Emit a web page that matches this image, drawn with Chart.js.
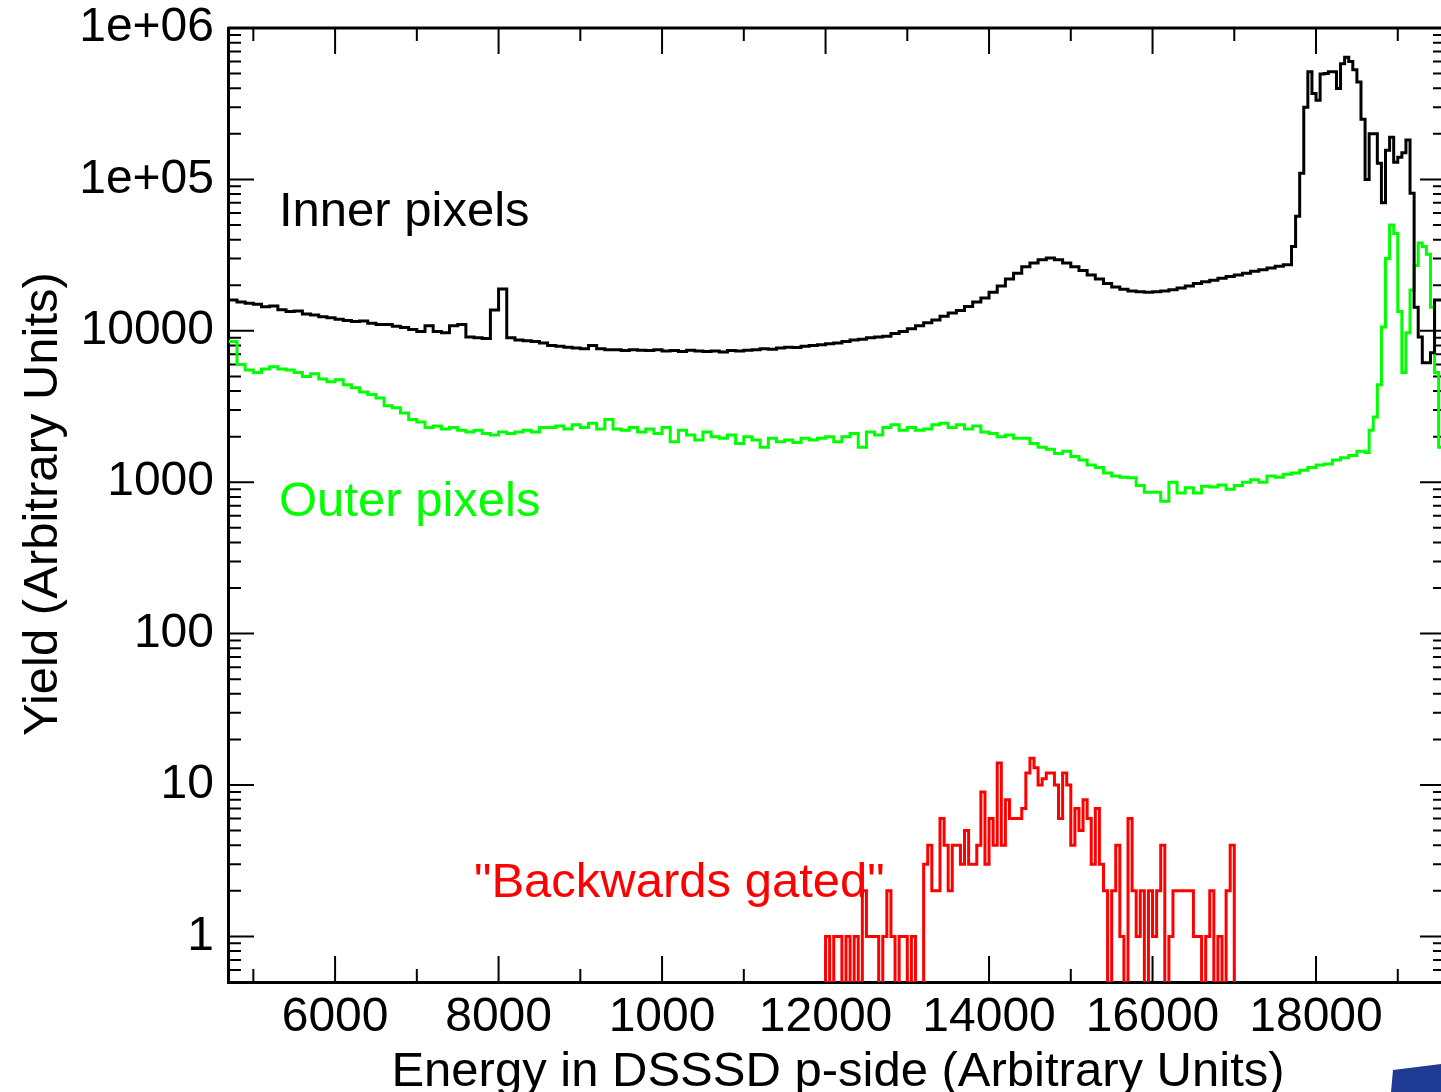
<!DOCTYPE html>
<html>
<head>
<meta charset="utf-8">
<title>Energy in DSSSD p-side</title>
<script src="https://cdn.jsdelivr.net/npm/chart.js@4.4.1/dist/chart.umd.min.js"></script>
<style>
  html, body { margin: 0; padding: 0; background: #fff; overflow: hidden; }
  #wrap { width: 1452px; height: 1092px; }
</style>
</head>
<body>
<div id="wrap"><canvas id="spectre" width="1452" height="1092"></canvas></div>
<script>
// Axes
const xTickValues = [6000, 8000, 10000, 12000, 14000, 16000, 18000];
const xTickLabels = ['6000', '8000', '1000', '12000', '14000', '16000', '18000'];
const xMinorTicks = [5000, 7000, 9000, 11000, 13000, 15000, 17000, 19000];
const yTickValues = [1, 10, 100, 1000, 10000, 100000, 1000000];
const yTickLabels = ['1', '10', '100', '1000', '10000', '1e+05', '1e+06'];

// Inner pixels : bins de 100 depuis 4700, puis bins de 50 depuis 17700
const innerStart = 4700, innerWidth = 100;
const innerLow = [
  16000, 15500, 15200, 15000, 14400, 14600, 13800, 13400, 13500, 12900,
  12700, 12400, 12200, 11900, 11700, 11500, 11600, 11200, 11000, 11000,
  10700, 10500, 10200, 9900, 10800, 9900, 9700, 10800, 11000, 9100,
  9000, 8900, 13700, 18900, 9000, 8700, 8600, 8500, 8300, 8000,
  7900, 7800, 7700, 7600, 8000, 7600, 7500, 7500, 7400, 7500,
  7450, 7400, 7500, 7350, 7400, 7300, 7450, 7350, 7300, 7350,
  7250, 7400, 7350, 7450, 7500, 7600, 7550, 7700, 7800, 7750,
  7900, 8000, 8100, 8200, 8300, 8500, 8700, 8800, 9000, 9100,
  9200, 9600, 9900, 10300, 10800, 11300, 11800, 12500, 13100, 13600,
  14500, 15500, 16500, 18000, 19800, 22000, 24000, 26500, 28000, 29500,
  30300, 29500, 28000, 26500, 25000, 23400, 22000, 20500, 19500, 18800,
  18300, 18100, 18000, 18100, 18300, 18650, 19200, 19800, 20500, 21100,
  21600, 22200, 22800, 23400, 24000, 24700, 25300, 26000, 26700, 27300
];
const innerPeakStart = 17700, innerPeakWidth = 50;
const innerPeak = [
  36000, 57000, 110000, 300000, 514000, 370000, 333000, 496000, 500000, 514000,
  514000, 398000, 580000, 640000, 600000, 529000, 440000, 250000, 100000, 200000,
  200000, 128000, 70000, 156000, 190000, 130000, 140000, 150000, 182000, 81000,
  14300, 9100, 6150, 6150, 7160, 16000, 16000, 16000
];

// Outer pixels : bins de 100 depuis 4700, puis bins de 50 depuis 18600
const outerStart = 4700, outerWidth = 100;
const outerLow = [
  8500, 6000, 5500, 5300, 5600, 5800, 5600, 5500, 5300, 5000,
  5200, 4800, 4600, 4750, 4400, 4200, 3950, 3800, 3600, 3200,
  3100, 2870, 2600, 2500, 2300, 2350, 2250, 2300, 2200, 2150,
  2200, 2100, 2050, 2150, 2100, 2150, 2200, 2150, 2300, 2300,
  2350, 2250, 2400, 2300, 2450, 2250, 2600, 2250, 2200, 2300,
  2150, 2250, 2100, 2300, 1850, 2200, 2050, 1900, 2150, 2000,
  1950, 2050, 1800, 2000, 1900, 1700, 1950, 1850, 1900, 1830,
  1950, 1900, 1950, 2000, 1850, 2000, 2100, 1700, 2150, 2050,
  2300, 2400, 2200, 2300, 2200, 2250, 2400, 2450, 2300, 2400,
  2250, 2350, 2150, 2100, 2000, 2050, 1950, 1950, 1800, 1700,
  1650, 1550, 1600, 1480, 1400, 1300, 1250, 1150, 1100, 1080,
  1070, 950, 860, 860, 750, 1000, 850, 920, 850, 940,
  930, 960, 900, 950, 1000, 1040, 1000, 1100, 1080, 1130,
  1150, 1200, 1250, 1300, 1320, 1400, 1450, 1500, 1600
];
const outerPeakStart = 18600, outerPeakWidth = 50;
const outerPeak = [
  1570, 2200, 2700, 4400, 10600, 30000, 50000, 44000, 13400, 5300,
  9700, 18600, 27000, 38000, 36000, 32000, 14300, 5300, 1700, 1400
];

// "Backwards gated" : bins de 50 depuis 12000 (0 = bin vide)
const gatedStart = 12000, gatedWidth = 50;
const gated = [
  1, 0, 1, 1, 0, 1, 0, 1, 0, 2,
  1, 1, 1, 0, 1, 2, 1, 0, 1, 1,
  0, 1, 0, 0, 3, 4, 2, 2, 6, 4,
  2, 4, 4, 3, 5, 3, 3, 4, 9, 3,
  6, 4, 14, 4, 8, 6, 6, 6, 7, 12,
  15, 13, 10, 11, 12, 12, 10, 6, 12, 10,
  4, 7, 5, 8, 6, 3, 7, 3, 2, 0,
  2, 4, 1, 0, 6, 2, 1, 2, 0, 2,
  1, 2, 4, 0, 1, 2, 2, 2, 2, 2,
  1, 1, 0, 1, 2, 0, 1, 0, 2, 4
];

// valeur utilisée pour les bins vides (sous le bas de l'axe log)
const FLOOR = 0.3;

const SANS = "'Liberation Sans', Arial, sans-serif";

// Construit les points d'un histogramme (bords gauches des bins)
function segmentPoints(start, width, values) {
    return values.map((v, i) => ({ x: start + i * width, y: v > 0 ? v : FLOOR }));
}

function closeHist(points, endX, endY) {
    points.push({ x: endX, y: endY });
    return points;
}

const innerPoints = closeHist(
    segmentPoints(innerStart, innerWidth, innerLow).concat(segmentPoints(innerPeakStart, innerPeakWidth, innerPeak)),
    innerPeakStart + innerPeak.length * innerPeakWidth,
    innerPeak[innerPeak.length - 1]
);
const outerPoints = closeHist(
    segmentPoints(outerStart, outerWidth, outerLow).concat(segmentPoints(outerPeakStart, outerPeakWidth, outerPeak)),
    outerPeakStart + outerPeak.length * outerPeakWidth,
    outerPeak[outerPeak.length - 1]
);
const gatedPoints = [{ x: gatedStart, y: FLOOR }].concat(segmentPoints(gatedStart, gatedWidth, gated));
closeHist(gatedPoints, gatedStart + gated.length * gatedWidth, FLOOR);

// Pas de marge auto pour les labels qui débordent
function noPadding(scale) {
    scale.paddingTop = 0;
    scale.paddingBottom = 0;
    scale.paddingLeft = 0;
    scale.paddingRight = 0;
}

// Cadre façon ROOT : ticks vers l'intérieur sur les 4 côtés + textes
const cadreRoot = {
    id: 'cadreRoot',
    beforeDatasetsDraw(chart) {
        const { ctx, chartArea: a, scales: { x, y } } = chart;
        ctx.save();
        ctx.strokeStyle = '#000';
        ctx.lineWidth = 2;
        ctx.beginPath();
        const tickX = (v, len) => {
            const px = x.getPixelForValue(v);
            ctx.moveTo(px, a.bottom); ctx.lineTo(px, a.bottom - len);
            ctx.moveTo(px, a.top); ctx.lineTo(px, a.top + len);
        };
        const tickY = (v, len) => {
            const py = y.getPixelForValue(v);
            ctx.moveTo(a.left, py); ctx.lineTo(a.left + len, py);
            ctx.moveTo(a.right, py); ctx.lineTo(a.right - len, py);
        };
        xTickValues.forEach(v => tickX(v, 26));
        xMinorTicks.forEach(v => tickX(v, 13));
        yTickValues.forEach(v => tickY(v, 26));
        [0.1, 1, 10, 100, 1000, 10000, 100000].forEach(d => {
            for (let m = 2; m <= 9; m++) {
                const v = m * d;
                if (v >= y.min && v <= y.max) tickY(v, 13);
            }
        });
        ctx.stroke();
        ctx.lineWidth = 3;
        ctx.beginPath();
        ctx.moveTo(a.left, a.top);
        ctx.lineTo(a.right, a.top);
        ctx.lineTo(a.right, a.bottom);
        ctx.stroke();
        ctx.restore();
    },
    afterDraw(chart) {
        const { ctx } = chart;
        ctx.save();
        ctx.textBaseline = 'alphabetic';

        // titres des axes
        ctx.fillStyle = '#000';
        ctx.font = `49px ${SANS}`;
        ctx.textAlign = 'center';
        ctx.fillText('Energy in DSSSD p-side (Arbitrary Units)', 838, 1086);
        ctx.save();
        ctx.translate(57, 504);
        ctx.rotate(-Math.PI / 2);
        ctx.fillText('Yield (Arbitrary Units)', 0, 0);
        ctx.restore();

        // étiquettes des courbes
        ctx.textAlign = 'left';
        ctx.font = `49px ${SANS}`;
        ctx.fillStyle = '#000000';
        ctx.fillText('Inner pixels', 279, 226);
        ctx.fillStyle = '#00ff00';
        ctx.fillText('Outer pixels', 279, 516);
        ctx.fillStyle = '#ff0000';
        ctx.fillText('"Backwards gated"', 474, 897);

        // bout de logo en bas à droite
        ctx.fillStyle = '#1f3a93';
        ctx.beginPath();
        ctx.moveTo(1393, 1070);
        ctx.lineTo(1441, 1064);
        ctx.lineTo(1441, 1092);
        ctx.lineTo(1391, 1092);
        ctx.closePath();
        ctx.fill();
        ctx.restore();
    }
};

const ctx = document.getElementById('spectre').getContext('2d');
new Chart(ctx, {
    type: 'line',
    data: {
        datasets: [
            { label: 'Inner pixels', data: innerPoints, borderColor: '#000000', borderWidth: 3, stepped: 'before', pointRadius: 0, fill: false, borderJoinStyle: 'miter' },
            { label: 'Outer pixels', data: outerPoints, borderColor: '#00ff00', borderWidth: 3, stepped: 'before', pointRadius: 0, fill: false, borderJoinStyle: 'miter' },
            { label: 'Backwards gated', data: gatedPoints, borderColor: '#ff0000', borderWidth: 3, stepped: 'before', pointRadius: 0, fill: false, borderJoinStyle: 'miter' }
        ]
    },
    options: {
        responsive: false,
        animation: false,
        layout: { padding: { top: 28, right: 6, left: 0, bottom: 0 } },
        plugins: {
            legend: { display: false },
            tooltip: { enabled: false }
        },
        scales: {
            x: {
                type: 'linear',
                min: 4690,
                max: 19590,
                afterBuildTicks: scale => { scale.ticks = xTickValues.map(v => ({ value: v })); },
                afterFit: scale => { scale.height = 110; noPadding(scale); },
                grid: { display: false, drawTicks: false },
                border: { display: true, color: '#000', width: 3 },
                ticks: {
                    autoSkip: false,
                    maxRotation: 0,
                    padding: 12,
                    color: '#000',
                    font: { family: SANS, size: 48, lineHeight: 1 },
                    callback: (value, index) => xTickLabels[index]
                }
            },
            y: {
                type: 'logarithmic',
                min: 0.5,
                max: 1000000,
                afterBuildTicks: scale => { scale.ticks = yTickValues.map(v => ({ value: v })); },
                afterFit: scale => { scale.width = 228; noPadding(scale); },
                grid: { display: false, drawTicks: false },
                border: { display: true, color: '#000', width: 3 },
                ticks: {
                    autoSkip: false,
                    padding: 14,
                    color: '#000',
                    font: { family: SANS, size: 48, lineHeight: 1 },
                    callback: (value, index) => yTickLabels[index]
                }
            }
        }
    },
    plugins: [cadreRoot]
});
</script>
</body>
</html>
